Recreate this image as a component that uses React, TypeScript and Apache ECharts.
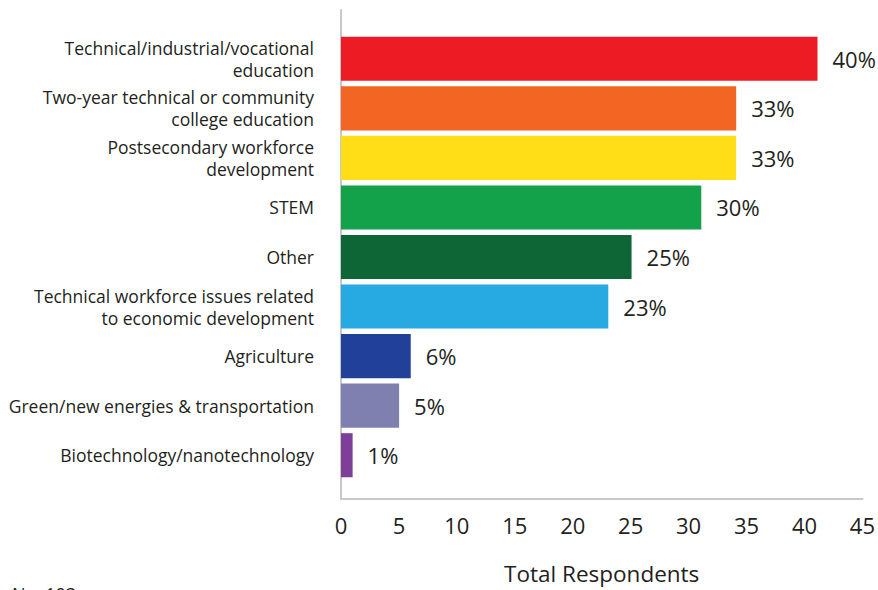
import React, { useEffect, useRef } from "react";
import * as echarts from "echarts";

const categories: string[] = [
  "Technical/industrial/vocational\neducation",
  "Two-year technical or community\ncollege education",
  "Postsecondary workforce\ndevelopment",
  "STEM",
  "Other",
  "Technical workforce issues related\nto economic development",
  "Agriculture",
  "Green/new energies & transportation",
  "Biotechnology/nanotechnology",
];

const respondents: number[] = [41, 34, 34, 31, 25, 23, 6, 5, 1];

const percentLabels: string[] = ["40%", "33%", "33%", "30%", "25%", "23%", "6%", "5%", "1%"];

const barColors: string[] = [
  "#ED1C24",
  "#F26522",
  "#FFDE17",
  "#13A14A",
  "#0E6637",
  "#27AAE1",
  "#21409A",
  "#8080B0",
  "#7E3F98",
];

const xTicks = { min: 0, max: 45, interval: 5 };
const axisTitle = "Total Respondents";
const sampleNote = "N = 103";

const FONT = "'Open Sans', 'Noto Sans', sans-serif";
const TEXT = "#231F20";
const AXIS = "#C7C8CA";

export default function App() {
  const ref = useRef<HTMLDivElement>(null);

  useEffect(() => {
    if (!ref.current) return;
    const chart = echarts.init(ref.current, null, { renderer: "svg" });
    chart.setOption({
      animation: false,
      textStyle: { fontFamily: FONT },
      grid: [
        { left: 341, top: 34, width: 523, height: 446, containLabel: false },
        { left: 341, top: 10, width: 523, height: 494, containLabel: false },
      ],
      xAxis: [
        {
          gridIndex: 0,
          type: "value",
          min: xTicks.min,
          max: xTicks.max,
          interval: xTicks.interval,
          show: false,
        },
        {
          gridIndex: 1,
          type: "value",
          min: xTicks.min,
          max: xTicks.max,
          interval: xTicks.interval,
          axisLine: { show: true, lineStyle: { color: AXIS, width: 2 } },
          axisTick: { show: false },
          splitLine: { show: false },
          axisLabel: { fontSize: 22, color: TEXT, margin: 15, fontFamily: FONT },
          name: axisTitle,
          nameLocation: "middle",
          nameGap: 63,
          nameTextStyle: { fontSize: 22.5, color: TEXT, fontFamily: FONT },
        },
      ],
      yAxis: [
        {
          gridIndex: 0,
          type: "category",
          data: categories,
          inverse: true,
          axisLine: { show: false },
          axisTick: { show: false },
          splitLine: { show: false },
          axisLabel: {
            fontSize: 17.5,
            color: TEXT,
            margin: 27,
            align: "right",
            lineHeight: 22,
            fontFamily: FONT,
          },
        },
        {
          gridIndex: 1,
          type: "value",
          min: 0,
          max: 1,
          axisLine: { show: true, lineStyle: { color: AXIS, width: 2 } },
          axisTick: { show: false },
          axisLabel: { show: false },
          splitLine: { show: false },
        },
      ],
      series: [
        {
          type: "bar",
          xAxisIndex: 0,
          yAxisIndex: 0,
          barCategoryGap: "11%",
          data: respondents.map((v, i) => ({
            value: v,
            itemStyle: { color: barColors[i] },
          })),
          label: {
            show: true,
            position: "right",
            distance: 15,
            fontSize: 22,
            color: TEXT,
            fontFamily: FONT,
            formatter: (p: any) => percentLabels[p.dataIndex],
          },
        },
      ],
      graphic: [
        {
          type: "text",
          left: 12,
          top: 585,
          style: { text: sampleNote, fontSize: 18, fill: TEXT, fontFamily: FONT },
        },
      ],
    });
    return () => chart.dispose();
  }, []);

  return (
    <div
      ref={ref}
      style={{ position: "fixed", left: 0, top: 0, width: 878, height: 590, background: "#fff" }}
    />
  );
}
